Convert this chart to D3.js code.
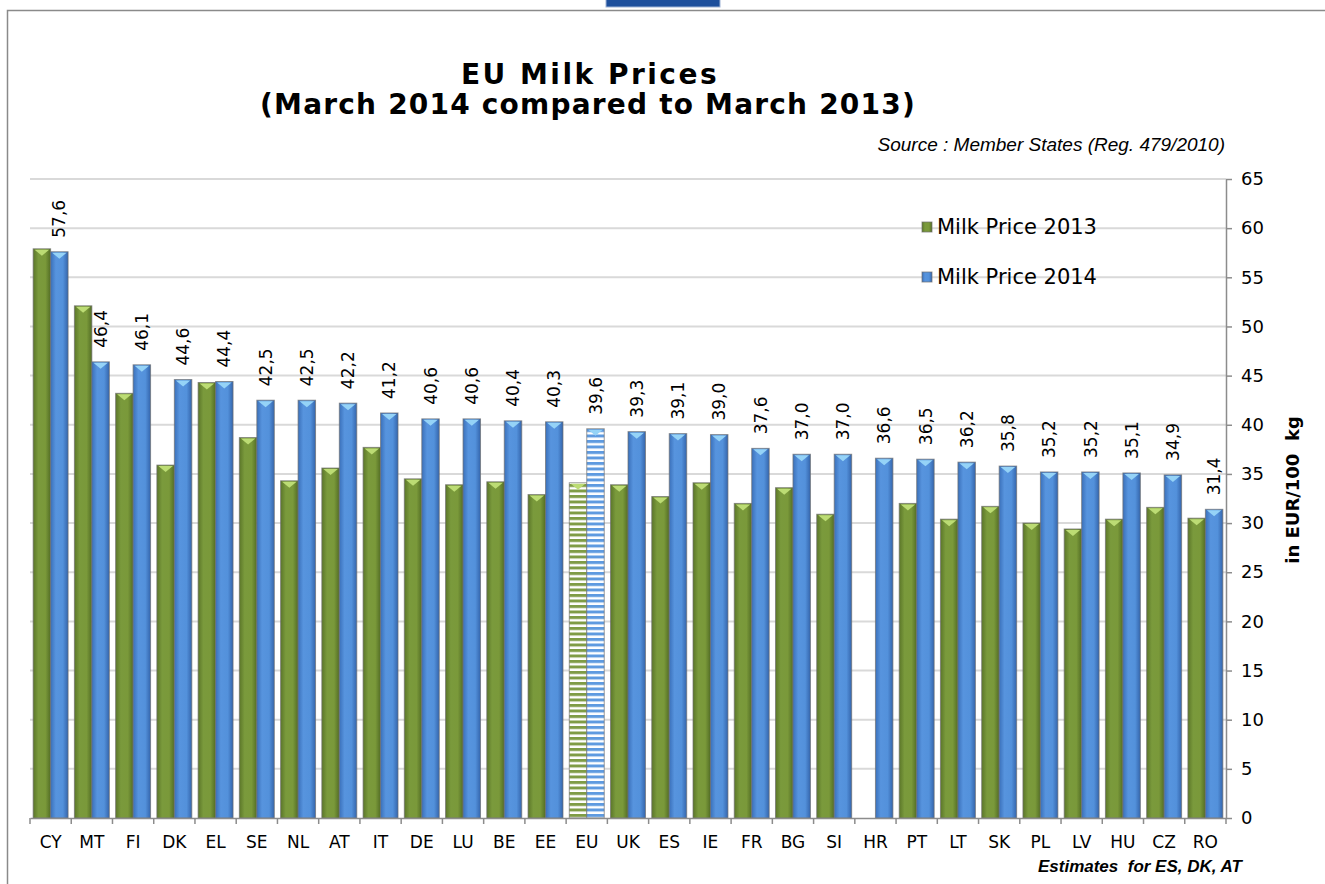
<!DOCTYPE html>
<meta charset='utf-8'>
<style>
body {
    margin: 0;
    background: #fff;
}

svg text {
    font-family: 'DejaVu Sans', Verdana, sans-serif;
    fill: #000;
}

.grid line {
    stroke: #d9d9d9;
    stroke-width: 2px;
}

.axis path,
.axis line {
    stroke: #8c8c8c;
    stroke-width: 1.5px;
}

.bar {
    stroke: #6f6f6f;
    stroke-opacity: .7;
    stroke-width: 1px;
}
</style>

<body>
    <div class='chart'></div>
    <script src='https://d3js.org/d3.v7.min.js'></script>
    <script>
    var countries = ['CY', 'MT', 'FI', 'DK', 'EL', 'SE', 'NL', 'AT', 'IT', 'DE', 'LU', 'BE', 'EE', 'EU',
        'UK', 'ES', 'IE', 'FR', 'BG', 'SI', 'HR', 'PT', 'LT', 'SK', 'PL', 'LV', 'HU', 'CZ', 'RO'];

    // March 2013 (no figure for HR)
    var price2013 = [57.9, 52.1, 43.2, 35.9, 44.3, 38.7, 34.3, 35.6, 37.7, 34.5, 33.9, 34.2, 32.9, 34.1,
        33.9, 32.7, 34.1, 32.0, 33.6, 30.9, null, 32.0, 30.4, 31.7, 30.0, 29.4, 30.4, 31.6, 30.5];

    // March 2014
    var price2014 = [57.6, 46.4, 46.1, 44.6, 44.4, 42.5, 42.5, 42.2, 41.2, 40.6, 40.6, 40.4, 40.3, 39.6,
        39.3, 39.1, 39.0, 37.6, 37.0, 37.0, 36.6, 36.5, 36.2, 35.8, 35.2, 35.2, 35.1, 34.9, 31.4];

    var seriesNames = ['Milk Price 2013', 'Milk Price 2014'];
    var yTicks = [0, 5, 10, 15, 20, 25, 30, 35, 40, 45, 50, 55, 60, 65];

    var width = 1325,
        height = 884;

    var svg = d3.select('.chart').append('svg')
        .attr('width', width)
        .attr('height', height);

    var defs = svg.append('defs');

    var colors = {
        green: {stops: ['#5b7629', '#7a9a3c', '#7a993a', '#536d25'], top: '#bcdc74'},
        blue: {stops: ['#3a70ba', '#5794de', '#5391db', '#3465ac'], top: '#95d3f7'}
    };

    Object.keys(colors).forEach(function(k) {
        var g = defs.append('linearGradient')
            .attr('id', 'grad-' + k)
            .attr('x1', 0).attr('x2', 1).attr('y1', 0).attr('y2', 0);
        [0, 0.3, 0.7, 1].forEach(function(o, i) {
            g.append('stop').attr('offset', o).attr('stop-color', colors[k].stops[i]);
        });

        // striped fill for the EU average
        var p = defs.append('pattern')
            .attr('id', 'stripe-' + k)
            .attr('patternUnits', 'userSpaceOnUse')
            .attr('width', 40).attr('height', 5.5);
        p.append('rect').attr('width', 40).attr('height', 5.5).attr('fill', '#fff');
        p.append('rect').attr('width', 40).attr('height', 3).attr('fill', k === 'green' ? '#7f9c45' : '#5e9ae0');
    });

    // frame and the cut off box at the top
    svg.append('path')
        .attr('d', 'M7.5,884V10.5H1325')
        .attr('fill', 'none')
        .attr('stroke', '#8a8a8a')
        .attr('stroke-width', 1.5);

    svg.append('rect')
        .attr('x', 606).attr('y', -2)
        .attr('width', 114).attr('height', 9)
        .attr('fill', '#1d4f9c')
        .attr('stroke', '#9fb4d6');

    var x0 = d3.scaleBand()
        .domain(countries)
        .range([30, 1226]);

    var x1 = d3.scaleBand()
        .domain(seriesNames)
        .range([0, x0.bandwidth()])
        .paddingOuter(0.18);

    var y = d3.scaleLinear()
        .domain([0, 65])
        .range([818, 179]);

    // gridlines
    svg.append('g')
        .attr('class', 'grid')
        .selectAll('line')
        .data(yTicks.slice(1))
        .enter().append('line')
        .attr('x1', 30).attr('x2', 1226)
        .attr('y1', function(d) { return y(d); })
        .attr('y2', function(d) { return y(d); });

    var rows = countries.map(function(c, i) {
        return {country: c, values: [price2013[i], price2014[i]]};
    });

    var groups = svg.append('g').selectAll('g')
        .data(rows)
        .enter().append('g')
        .attr('transform', function(d) { return 'translate(' + x0(d.country) + ',0)'; });

    var bars = groups.selectAll('g.b')
        .data(function(d) {
            return d.values.map(function(v, i) {
                return {country: d.country, series: seriesNames[i], key: i === 0 ? 'green' : 'blue', value: v};
            }).filter(function(e) { return e.value !== null; });
        })
        .enter().append('g')
        .attr('class', 'b');

    bars.append('rect')
        .attr('class', 'bar')
        .attr('x', function(d) { return x1(d.series); })
        .attr('y', function(d) { return y(d.value); })
        .attr('width', x1.bandwidth())
        .attr('height', function(d) { return y(0) - y(d.value); })
        .attr('fill', function(d) {
            return d.country === 'EU' ? 'url(#stripe-' + d.key + ')' : 'url(#grad-' + d.key + ')';
        });

    // little bevel on top of each bar
    bars.append('path')
        .attr('d', function(d) {
            var bx = x1(d.series), by = y(d.value), w = x1.bandwidth();
            return 'M' + (bx + 1.5) + ',' + (by + 1) + 'L' + (bx + w - 1.5) + ',' + (by + 1) +
                'L' + (bx + w / 2) + ',' + (by + 7) + 'Z';
        })
        .attr('fill', function(d) { return colors[d.key].top; });

    // value labels on the 2014 bars
    var fmt = d3.formatLocale({decimal: ',', thousands: '.', grouping: [3], currency: ['', '€']}).format('.1f');

    groups.append('text')
        .attr('transform', function(d) {
            var cx = x1(seriesNames[1]) + x1.bandwidth() / 2;
            return 'translate(' + cx + ',' + (y(d.values[1]) - 14) + ') rotate(-90)';
        })
        .attr('dy', '0.36em')
        .style('font-size', '17px')
        .text(function(d) { return fmt(d.values[1]); });

    // axes
    var xAxis = svg.append('g')
        .attr('class', 'axis')
        .attr('transform', 'translate(0,818)')
        .call(d3.axisBottom(x0).tickSize(0).tickPadding(18));
    xAxis.selectAll('text').style('font-size', '17px');
    xAxis.selectAll('.bound')
        .data(countries.concat(['end']))
        .enter().append('line')
        .attr('class', 'bound')
        .attr('x1', function(d, i) { return 30 + i * x0.step(); })
        .attr('x2', function(d, i) { return 30 + i * x0.step(); })
        .attr('y1', 0).attr('y2', 6);

    var yAxis = svg.append('g')
        .attr('class', 'axis')
        .attr('transform', 'translate(1226,0)')
        .call(d3.axisRight(y).tickValues(yTicks).tickSize(6).tickSizeOuter(0).tickPadding(9));
    yAxis.selectAll('text').style('font-size', '18px');

    svg.append('text')
        .attr('transform', 'translate(1293,490) rotate(-90)')
        .attr('text-anchor', 'middle')
        .attr('dy', '0.35em')
        .style('font-size', '18px')
        .style('font-weight', 'bold')
        .style('white-space', 'pre')
        .text('in EUR/100  kg');

    // titles
    svg.append('text')
        .attr('x', 590).attr('y', 84)
        .attr('text-anchor', 'middle')
        .style('font-size', '28px')
        .style('font-weight', 'bold')
        .style('letter-spacing', '2.5px')
        .style('white-space', 'pre')
        .text('EU Milk Prices');

    svg.append('text')
        .attr('x', 588).attr('y', 114)
        .attr('text-anchor', 'middle')
        .style('font-size', '28px')
        .style('font-weight', 'bold')
        .style('letter-spacing', '1.2px')
        .style('white-space', 'pre')
        .text('(March 2014 compared to March 2013)');

    svg.append('text')
        .attr('x', 1225).attr('y', 151)
        .attr('text-anchor', 'end')
        .style('font-family', "'Liberation Sans', Arial, sans-serif")
        .style('font-size', '19px')
        .style('font-style', 'italic')
        .text('Source : Member States (Reg. 479/2010)');

    svg.append('text')
        .attr('x', 1242).attr('y', 872)
        .attr('text-anchor', 'end')
        .style('font-family', "'Liberation Sans', Arial, sans-serif")
        .style('font-size', '17px')
        .style('font-style', 'italic')
        .style('font-weight', 'bold')
        .style('white-space', 'pre')
        .text('Estimates  for ES, DK, AT');

    // legend
    var legend = svg.append('g').selectAll('g')
        .data(seriesNames)
        .enter().append('g')
        .attr('transform', function(d, i) { return 'translate(922,' + (222 + i * 50) + ')'; });

    legend.append('rect')
        .attr('class', 'bar')
        .attr('width', 10).attr('height', 10)
        .attr('fill', function(d, i) { return 'url(#grad-' + (i === 0 ? 'green' : 'blue') + ')'; });

    legend.append('text')
        .attr('x', 15).attr('y', 5)
        .attr('dy', '0.35em')
        .style('font-size', '21px')
        .text(function(d) { return d; });
    </script>
</body>
